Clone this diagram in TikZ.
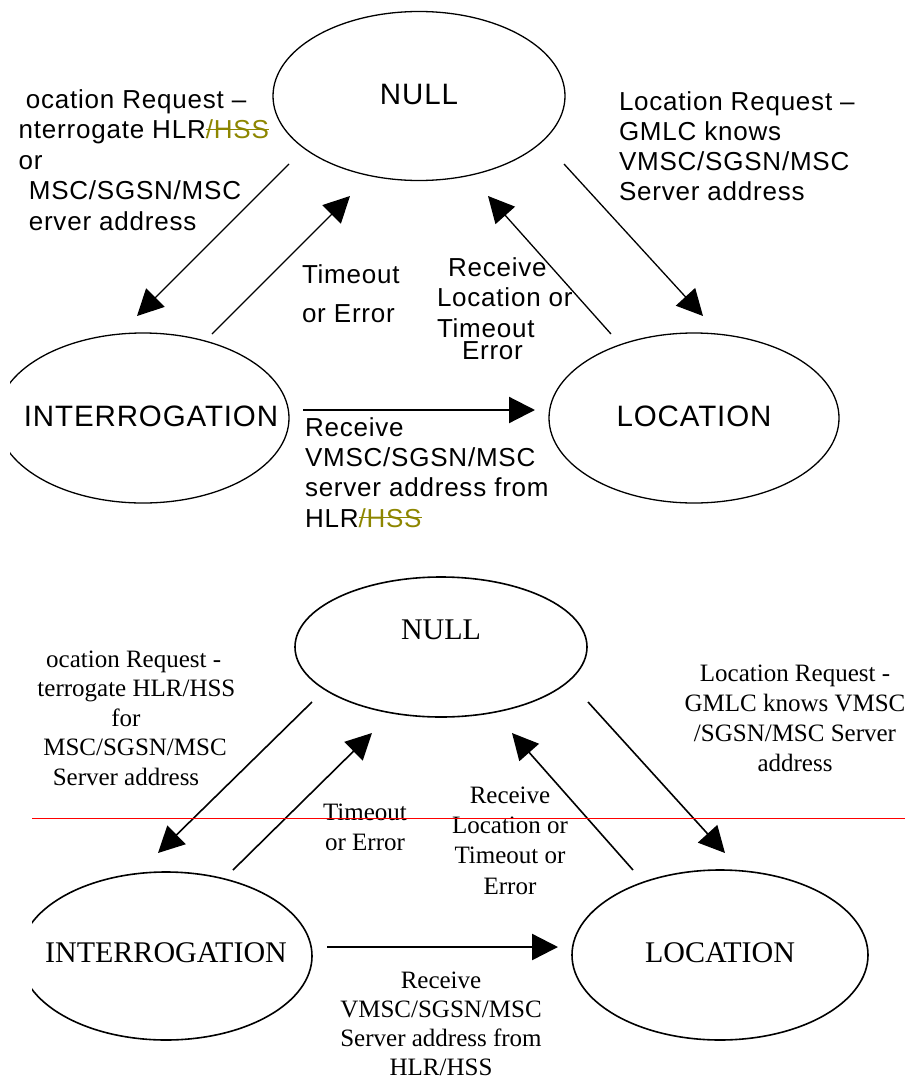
\documentclass[tikz,border=0pt]{standalone}
\usepackage{fontspec}
\setmainfont{Liberation Serif}
\newfontfamily\arialfont[LetterSpace=3]{Liberation Sans}
\usetikzlibrary{shapes.geometric, arrows.meta}

% struck-through text, as in a tracked change
\newcommand\strk[1]{\setbox0\hbox{#1}\rlap{\raise0.33em\hbox{\vrule width\wd0 height 1.3pt depth 0pt}}\box0}

\begin{document}
\begin{tikzpicture}[
            x = 1pt, y = -1pt,
            every node/.style={inner sep=0pt, outer sep=0pt},
            stateA/.style={ellipse, draw, line width = 1.3pt, minimum width = 292pt, minimum height = 169pt},
            stateB/.style={ellipse, draw, line width = 1.6pt, minimum width = 292pt, minimum height = 168pt},
            nameA/.style={font=\arialfont\fontsize{29.5}{34}\selectfont},
            nameB/.style={font=\fontsize{30}{34}\selectfont},
            labelA/.style={font=\arialfont\fontsize{26}{30.5}\selectfont, align=left, anchor=base west},
            labelB/.style={font=\fontsize{25}{29.7}\selectfont, align=center, anchor=base},
            line/.style={line width = 1.3pt, -{Triangle[length=26pt, width=26pt]}},
            ]
        \useasboundingbox (0,0) rectangle (905,1081);

        % upper chart (label nodes sit on the baseline of their last line)
        \node[stateA, label={[nameA, yshift=2pt]center:NULL}] (nullA) at (419,96) {};
        \begin{scope}
            \clip (10,300) rectangle (320,530);
            \node[stateA, minimum height = 170pt, label={[nameA, xshift=8pt, yshift=2pt]center:INTERROGATION}] (interA) at (143,418) {};
        \end{scope}
        \node[stateA, minimum width = 290pt, minimum height = 170pt, label={[nameA, yshift=2pt]center:LOCATION}] (locA) at (694,418) {};

        \node[labelA] (reqA) at (11.5,230) {\hphantom{L}ocation Request –\\\hphantom{I}nterrogate HLR{\color{olive}\strk{/HSS}}\\\hphantom{f}or\\\hphantom{V}MSC/SGSN/MSC\\\hphantom{S}erver address};
        \node[labelA, font=\arialfont\fontsize{26}{30}\selectfont] (gmlcA) at (619,200) {Location Request –\\GMLC knows\\VMSC/SGSN/MSC\\Server address};
        \node[labelA, font=\arialfont\fontsize{26}{39}\selectfont] (timeA) at (302,322) {Timeout\\or Error};
        \node[labelA] (recA) at (437,359) {\hspace*{11pt}Receive\\Location or\\Timeout\\[-8.5pt]\hspace*{25pt}Error};
        \node[labelA, font=\arialfont\fontsize{26}{30.3}\selectfont] (addrA) at (305,527) {Receive\\VMSC/SGSN/MSC\\server address from\\HLR{\color{olive}\strk{/HSS}}};

        \draw[line] ([shift={(-130,68)}]nullA.center) -- ([shift={(-6,-102)}]interA.center);
        \draw[line] ([shift={(69,-84)}]interA.center) -- ([shift={(-69,100)}]nullA.center);
        \draw[line] ([shift={(-83,-84)}]locA.center) -- ([shift={(69,100)}]nullA.center);
        \draw[line] ([shift={(145,68)}]nullA.center) -- ([shift={(9,-102)}]locA.center);
        \draw[line, line width = 2.2pt] ([shift={(160,-8)}]interA.center) -- ([shift={(-159,-8)}]locA.center);

        % lower chart
        \node[stateB, minimum height = 140pt, label={[nameB, yshift=17pt]center:NULL}] (nullB) at (441,647) {};
        \begin{scope}
            \clip (32,860) rectangle (330,1060);
            \node[stateB, label={[nameB, yshift=3pt]center:INTERROGATION}] (interB) at (166,956) {};
        \end{scope}
        \node[stateB, minimum width = 296pt, minimum height = 170pt, label={[nameB, yshift=2pt]center:LOCATION}] (locB) at (720,955) {};

        \node[labelB, font=\fontsize{25}{29.5}\selectfont] (reqB) at (126,785) {\hphantom{L}ocation Request -\\\hphantom{In}terrogate HLR/HSS\\for\\\hphantom{V}MSC/SGSN/MSC\\Server address};
        \node[labelB] (gmlcB) at (795,771) {Location Request -\\GMLC knows VMSC\\/SGSN/MSC Server\\address};
        \node[labelB, font=\fontsize{25}{30}\selectfont] (timeB) at (365,850) {Timeout\\or Error};
        \node[labelB, font=\fontsize{25}{30.3}\selectfont] (recB) at (510,894) {Receive\\Location or\\Timeout or\\Error};
        \node[labelB, font=\fontsize{25}{29}\selectfont] (addrB) at (441,1075) {Receive\\VMSC/SGSN/MSC\\Server address from\\HLR/HSS};

        \draw[line, line width = 1.6pt] ([shift={(-129,55)}]nullB.center) -- ([shift={(-8,-103)}]interB.center);
        \draw[line, line width = 1.6pt] ([shift={(67,-86)}]interB.center) -- ([shift={(-69,86)}]nullB.center);
        \draw[line, line width = 1.6pt] ([shift={(-87,-85)}]locB.center) -- ([shift={(71,86)}]nullB.center);
        \draw[line, line width = 1.6pt] ([shift={(147,55)}]nullB.center) -- ([shift={(5,-102)}]locB.center);
        \draw[line, line width = 2.4pt] ([shift={(161,-9)}]interB.center) -- ([shift={(-162,-8)}]locB.center);

        % red rule
        \coordinate (ruleL) at (32,818);
        \coordinate (ruleR) at (905,818);
        \draw[red, line width = 1pt] (ruleL) -- (ruleR);
    \end{tikzpicture}
\end{document}
